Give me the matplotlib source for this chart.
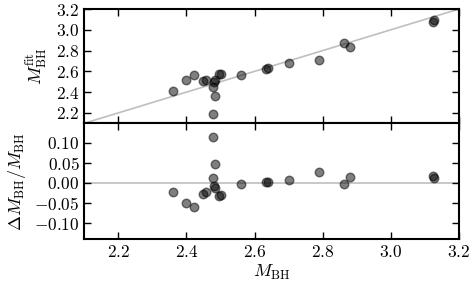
import matplotlib
matplotlib.use('Agg')
import matplotlib.pyplot as plt
from matplotlib.ticker import FuncFormatter, MultipleLocator

plt.rcParams['mathtext.fontset'] = 'cm'
plt.rcParams['font.family'] = 'serif'
plt.rcParams['font.serif'] = ['cmr10', 'DejaVu Serif']
plt.rcParams['axes.unicode_minus'] = False

# black hole masses
m_bh = [2.361, 2.399, 2.421, 2.448, 2.458, 2.482, 2.494, 2.502, 2.485,
        2.479, 2.485, 2.477, 2.559, 2.634, 2.639, 2.700, 2.789, 2.863,
        2.880, 3.123, 3.128]
m_fit = [2.411, 2.517, 2.565, 2.510, 2.512, 2.499, 2.574, 2.574, 2.517,
         2.446, 2.366, 2.192, 2.565, 2.620, 2.629, 2.680, 2.712, 2.870,
         2.834, 3.072, 3.091]
dm_frac = [-0.022, -0.050, -0.059, -0.028, -0.024, -0.007, -0.032, -0.031,
           -0.013, 0.013, 0.046, 0.113, -0.003, 0.003, 0.0025, 0.007,
           0.0265, -0.003, 0.015, 0.0174, 0.0117]

fmt1 = FuncFormatter(lambda v, p: r'$%.1f$' % v)
fmt2 = FuncFormatter(lambda v, p: r'$%.2f$' % v)

fig = plt.figure(figsize=(4.71, 2.86), dpi=100)
ax1 = fig.add_axes([0.179, 0.569, 0.7955, 0.3995])
ax2 = fig.add_axes([0.179, 0.164, 0.7955, 0.405], sharex=ax1)

ax1.plot([2.1, 3.2], [2.1, 3.2], color='0.75', lw=1.2, zorder=1)
ax1.scatter(m_bh, m_fit, s=38, color='k', alpha=0.5, zorder=2)
ax2.axhline(0.0, color='0.75', lw=1.2, zorder=1)
ax2.scatter(m_bh, dm_frac, s=38, color='k', alpha=0.5, zorder=2)

ax1.set_xlim(2.1, 3.2)
ax1.set_ylim(2.1, 3.2)
ax2.set_ylim(-0.14, 0.148)

ax1.xaxis.set_major_locator(MultipleLocator(0.2))
ax1.yaxis.set_major_locator(MultipleLocator(0.2))
ax2.yaxis.set_major_locator(MultipleLocator(0.05))
ax1.yaxis.set_major_formatter(fmt1)
ax2.xaxis.set_major_formatter(fmt1)
ax2.yaxis.set_major_formatter(fmt2)
plt.setp(ax1.get_xticklabels(), visible=False)

for ax in (ax1, ax2):
    ax.tick_params(direction='in', top=True, right=True, length=5,
                   width=1, labelsize=12.5)
    for sp in ax.spines.values():
        sp.set_linewidth(1.5)

ax1.set_ylabel(r'$M_{\rm BH}^{\rm fit}$', fontsize=13)
ax2.set_ylabel(r'$\Delta M_{\rm BH}/M_{\rm BH}$', fontsize=13)
ax2.set_xlabel(r'$M_{\rm BH}$', fontsize=13, labelpad=2)

fig.savefig('out.png', dpi=100)
